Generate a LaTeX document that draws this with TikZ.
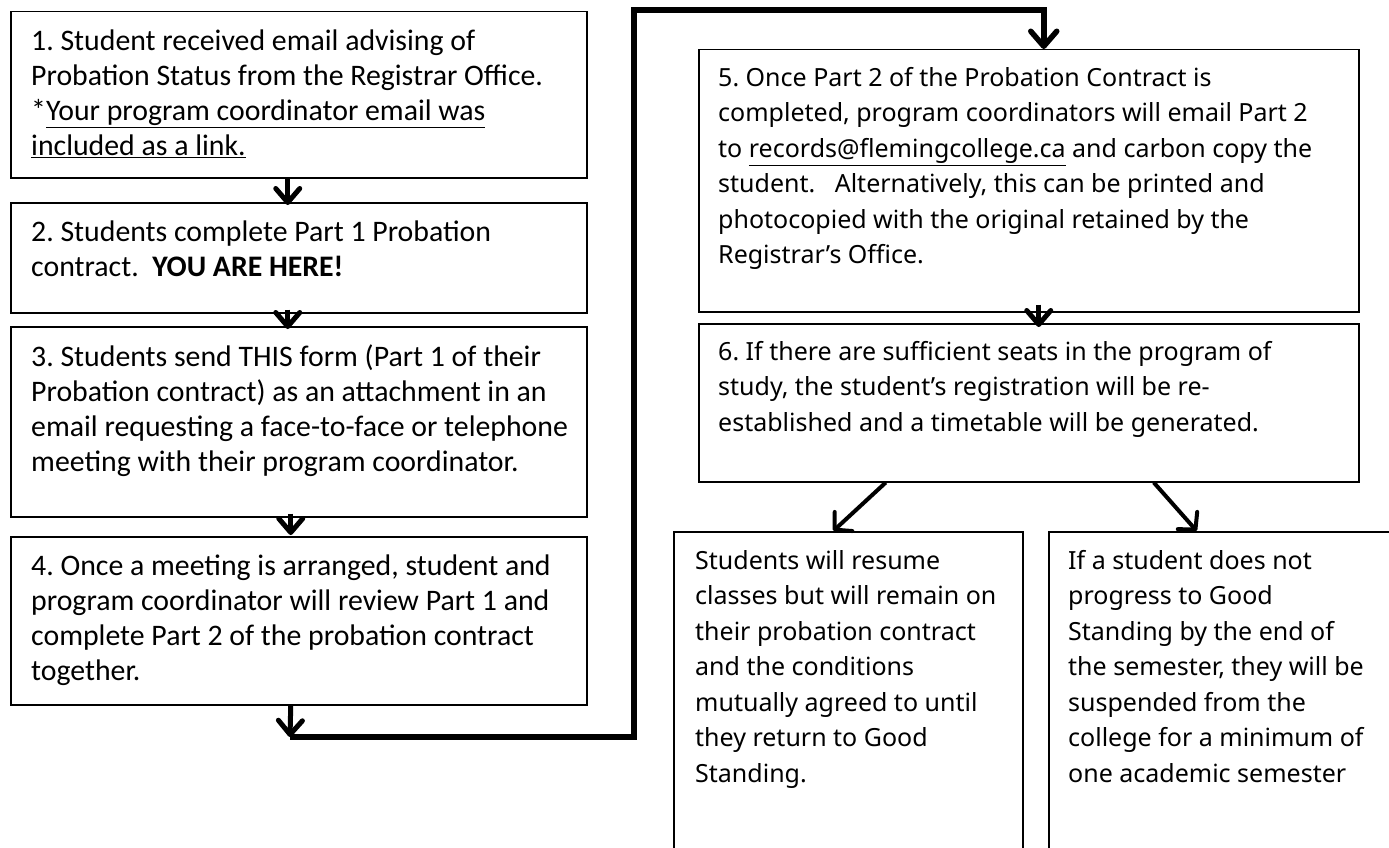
\documentclass[tikz,border=0pt]{standalone}
\usepackage{fontspec}
\setmainfont{Carlito}
\newfontfamily\notefont{Noto Sans}
\usetikzlibrary{arrows.meta}

\begin{document}
\frenchspacing
\begin{tikzpicture}[x=1pt,y=-1pt,
  stepbox/.style={draw, line width=1.5pt, anchor=north west, inner sep=0pt},
  steptext/.style={anchor=north west, inner sep=0pt, align=left,
    font=\fontsize{29.8pt}{35pt}\selectfont},
  notetext/.style={anchor=north west, inner sep=0pt, align=left,
    font=\notefont\fontsize{25pt}{35.5pt}\selectfont},
  hop/.style={line width=5pt, -{Straight Barb[length=14pt, width=24pt, round]}},
  flow/.style={line width=4pt, -{Straight Barb[length=12pt, width=26pt, round]}},
  bigflow/.style={line width=5.5pt, -{Straight Barb[length=15pt, width=26pt, round]}}]

\useasboundingbox (0,0) rectangle (1389,848);
\clip (0,0) rectangle (1389,848);

% left column
\node[stepbox, minimum width=576pt, minimum height=166pt] (s1) at (10,11) {};
\node[stepbox, minimum width=576pt, minimum height=110pt] (s2) at (10,202) {};
\node[stepbox, minimum width=576pt, minimum height=190pt] (s3) at (10,326) {};
\node[stepbox, minimum width=576pt, minimum height=168pt] (s4) at (10,536) {};

\node[steptext] (t1) at ([shift={(21,19)}]s1.north west)
  {1. Student received email advising of\\
   Probation Status from the Registrar Office.\\
   *\underline{Your program coordinator email was}\\
   \underline{included as a link.}};
\node[steptext] (t2) at ([shift={(21,19)}]s2.north west)
  {2. Students complete Part 1 Probation\\
   contract.\ \ \textbf{YOU ARE HERE!}};
\node[steptext] (t3) at ([shift={(21,19)}]s3.north west)
  {3. Students send THIS form (Part 1 of their\\
   Probation contract) as an attachment in an\\
   email requesting a face-to-face or telephone\\
   meeting with their program coordinator.};
\node[steptext] (t4) at ([shift={(21,19)}]s4.north west)
  {4. Once a meeting is arranged, student and\\
   program coordinator will review Part 1 and\\
   complete Part 2 of the probation contract\\
   together.};

% right column
\node[stepbox, minimum width=660pt, minimum height=262pt] (s5) at (698,49) {};
\node[stepbox, minimum width=660pt, minimum height=158pt] (s6) at (698,323) {};
\node[stepbox, minimum width=349pt, minimum height=400pt] (stay) at (673,531) {};
\node[stepbox, minimum width=400pt, minimum height=400pt] (drop) at (1048,531) {};

\node[notetext] (t5) at ([shift={(20,18)}]s5.north west)
  {5. Once Part 2 of the Probation Contract is\\
   completed, program coordinators will email Part 2\\
   to \underline{records@flemingcollege.ca} and carbon copy the\\
   student.\ \ \ Alternatively, this can be printed and\\
   photocopied with the original retained by the\\
   Registrar’s Office.};
\node[notetext] (t6) at ([shift={(20,18)}]s6.north west)
  {6. If there are sufficient seats in the program of\\
   study, the student’s registration will be re-\\
   established and a timetable will be generated.};
\node[notetext] (tstay) at ([shift={(22,19)}]stay.north west)
  {Students will resume\\
   classes but will remain on\\
   their probation contract\\
   and the conditions\\
   mutually agreed to until\\
   they return to Good\\
   Standing.};
\node[notetext] (tdrop) at ([shift={(20,19)}]drop.north west)
  {If a student does not\\
   progress to Good\\
   Standing by the end of\\
   the semester, they will be\\
   suspended from the\\
   college for a minimum of\\
   one academic semester};

% connectors
\draw[hop] ([xshift=-11pt]s1.south) -- ([shift={(-11,3)}]s2.north);
\draw[hop] ([shift={(-11,-4)}]s2.south) -- ([shift={(-11,3)}]s3.north);
\draw[hop] ([shift={(-8,-4)}]s3.south) -- ([shift={(-8,-1)}]s4.north);
\coordinate (turn) at (290,737);
\coordinate (peak) at (634,10);
\draw[hop] ([xshift=-8pt]s4.south) -- (turn);
\draw[bigflow] (turn) -| (peak) -| ([xshift=15pt]s5.north);
\draw[hop] ([shift={(10,-8)}]s5.south) -- ([shift={(10,4)}]s6.north);
\draw[flow] ([xshift=-143pt]s6.south) -- ([xshift=-15pt]stay.north);
\draw[flow] ([xshift=125pt]s6.south) -- ([xshift=-52pt]drop.north);
\end{tikzpicture}
\end{document}
